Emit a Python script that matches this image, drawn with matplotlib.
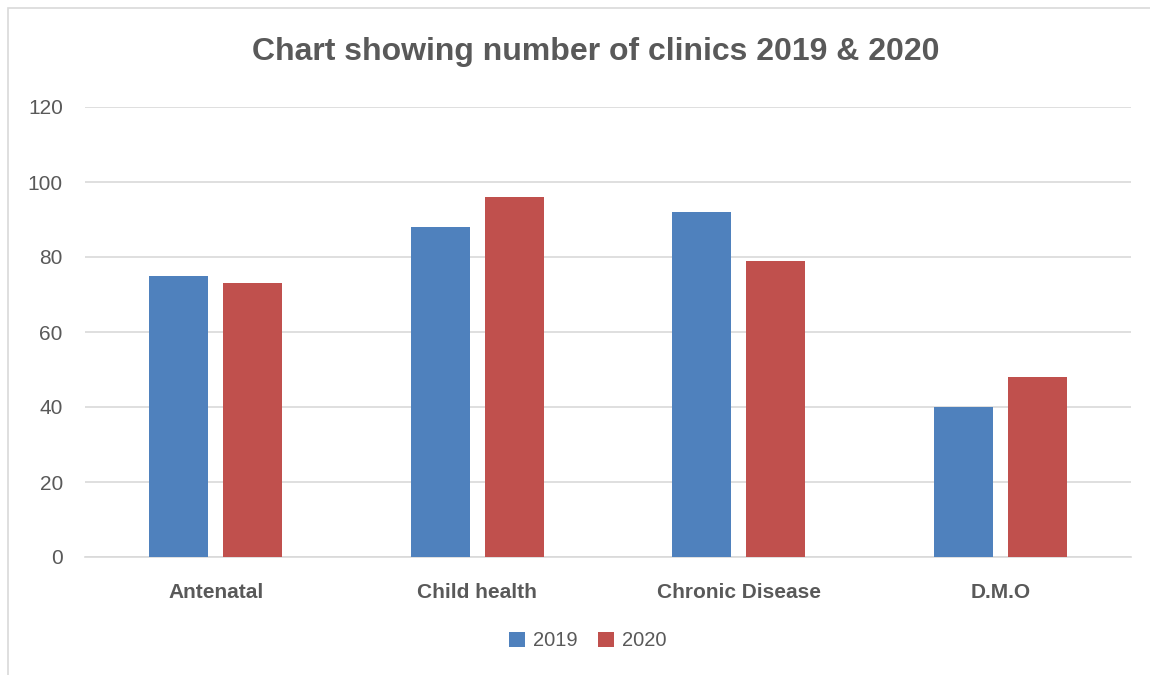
import matplotlib
matplotlib.use("Agg")
import matplotlib.pyplot as plt
import numpy as np
from matplotlib.patches import Rectangle

categories = ["Antenatal", "Child health", "Chronic Disease", "D.M.O"]
series_names = ["2019", "2020"]
values_2019 = [75, 88, 92, 40]
values_2020 = [73, 96, 79, 48]
yticks = [0, 20, 40, 60, 80, 100, 120]

plt.rcParams['font.family'] = ['Liberation Sans', 'DejaVu Sans']
txt = "#595959"

fig = plt.figure(figsize=(11.5, 6.75), dpi=100)
ax = fig.add_axes([85/1150, 1-557/675, (1131-85)/1150, (557-107)/675])

x = np.arange(len(categories))
w = 0.226
off = 0.1415
ax.bar(x - off, values_2019, w, color="#4F81BD", label=series_names[0], zorder=3)
ax.bar(x + off, values_2020, w, color="#C0504D", label=series_names[1], zorder=3)

ax.set_xlim(-0.5, len(categories) - 0.5)
ax.set_ylim(0, 120)
ax.set_yticks(yticks)
ax.set_yticklabels([str(t) for t in yticks], fontsize=15, color=txt)
ax.yaxis.grid(True, color="#D9D9D9", linewidth=1.2, zorder=0)
ax.tick_params(axis='y', length=0, pad=16)
ax.tick_params(axis='x', length=0, pad=19)
ax.set_xticks(x)
ax.set_xticklabels(categories, fontsize=15, fontweight='bold', color=txt)
for s in ["top", "right", "left"]:
    ax.spines[s].set_visible(False)
ax.spines["bottom"].set_color("#D9D9D9")
ax.spines["bottom"].set_linewidth(1.2)

fig.text(596/1150, 1-52/675, "Chart showing number of clinics 2019 & 2020",
         ha='center', va='center', fontsize=23, fontweight='bold', color=txt)

leg = fig.legend(loc='center', bbox_to_anchor=(588/1150, 1-641/675), ncol=2,
                 frameon=False, fontsize=14.5, handlelength=0.8, handleheight=0.8,
                 columnspacing=1.0, handletextpad=0.4)
for t in leg.get_texts():
    t.set_color(txt)

fig.patches.append(Rectangle((8/1150, -0.1), 1.2, 1 - 8/675 + 0.1, transform=fig.transFigure,
                             fill=False, edgecolor="#D9D9D9", linewidth=1.2))

fig.savefig("out.png", dpi=100)
